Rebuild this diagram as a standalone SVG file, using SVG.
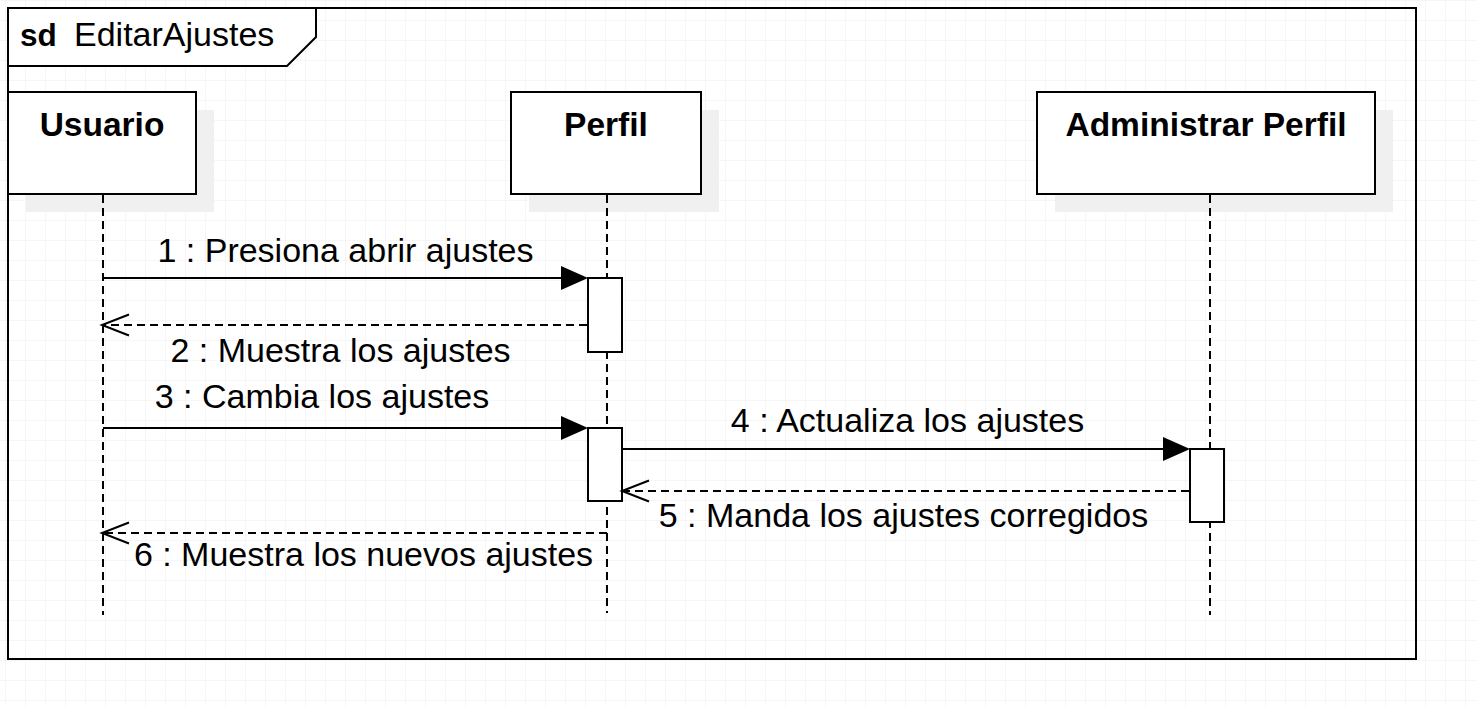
<svg xmlns="http://www.w3.org/2000/svg" width="1477" height="706" viewBox="0 0 1477 706">
<style>
.box{fill:#ffffff;stroke:#000000;stroke-width:2}
.shadow{fill:#f0f0f0;stroke:none}
.life{stroke:#000000;stroke-width:2;stroke-dasharray:8 5;fill:none}
.msg{stroke:#000000;stroke-width:2;fill:none}
.ret{stroke:#000000;stroke-width:2;stroke-dasharray:8 5;fill:none}
.head{fill:#000000;stroke:none}
.lbl{font-family:"Liberation Sans",Arial,sans-serif;font-size:34px;fill:#000000;text-anchor:middle}
.name{font-family:"Liberation Sans",Arial,sans-serif;font-size:33.5px;font-weight:bold;fill:#000000;text-anchor:middle}
</style>
<defs>
<pattern id="grid" x="5" y="0" width="20" height="20" patternUnits="userSpaceOnUse">
<path d="M0 0 V20 M0 0 H20" stroke="#eeeeee" stroke-width="1" fill="none"/>
</pattern>
</defs>
<rect x="0" y="0" width="1477" height="706" fill="#ffffff"/>
<rect x="0" y="0" width="1477" height="706" fill="url(#grid)"/>

<g id="frame">
<rect x="8" y="8" width="1408" height="651" fill="none" stroke="#000000" stroke-width="2"/>
<path d="M8 8 H316 V37 L287 66 H8 Z" fill="#ffffff" stroke="#000000" stroke-width="2"/>
<text x="20" y="46" font-family="Liberation Sans, Arial, sans-serif" font-size="31.5px" font-weight="bold">sd</text>
<text x="74" y="46" font-family="Liberation Sans, Arial, sans-serif" font-size="34px">EditarAjustes</text>
</g>

<g id="usuario">
<rect class="shadow" x="26" y="110" width="188" height="102"/>
<rect class="box" x="8" y="92" width="188" height="102"/>
<text class="name" x="102" y="136">Usuario</text>
<line class="life" x1="103" y1="195" x2="103" y2="615"/>
</g>

<g id="perfil">
<rect class="shadow" x="529" y="110" width="190" height="102"/>
<rect class="box" x="511" y="92" width="190" height="102"/>
<text class="name" x="606" y="136">Perfil</text>
<line class="life" x1="607" y1="195" x2="607" y2="613"/>
<rect class="box" x="588" y="278" width="34" height="74"/>
<rect class="box" x="588" y="428" width="34" height="73"/>
</g>

<g id="administrar-perfil">
<rect class="shadow" x="1055" y="110" width="338" height="102"/>
<rect class="box" x="1037" y="92" width="338" height="102"/>
<text class="name" x="1206" y="136">Administrar Perfil</text>
<line class="life" x1="1210" y1="195" x2="1210" y2="615"/>
<rect class="box" x="1190" y="449" width="34" height="73"/>
</g>

<g id="connectors">
<line class="msg" x1="103" y1="278" x2="565" y2="278"/>
<path class="head" d="M588 278 L561 266 L561 290 Z"/>
<text class="lbl" x="345.5" y="262">1 : Presiona abrir ajustes</text>

<line class="ret" x1="587" y1="325" x2="103" y2="325"/>
<path class="msg" d="M129 314.5 L102 325 L129 335.5"/>
<text class="lbl" x="340.5" y="362">2 : Muestra los ajustes</text>

<line class="msg" x1="103" y1="428" x2="565" y2="428"/>
<path class="head" d="M588 428 L561 416 L561 440 Z"/>
<text class="lbl" x="322" y="408">3 : Cambia los ajustes</text>

<line class="msg" x1="622" y1="449" x2="1167" y2="449"/>
<path class="head" d="M1190 449 L1163 437 L1163 461 Z"/>
<text class="lbl" x="907.5" y="432">4 : Actualiza los ajustes</text>

<line class="ret" x1="1189" y1="491" x2="623" y2="491"/>
<path class="msg" d="M649 480.5 L622 491 L649 501.5"/>
<text class="lbl" x="903.5" y="527">5 : Manda los ajustes corregidos</text>

<line class="ret" x1="607" y1="533" x2="103" y2="533"/>
<path class="msg" d="M129 522.5 L102 533 L129 543.5"/>
<text class="lbl" x="363.5" y="566">6 : Muestra los nuevos ajustes</text>
</g>
</svg>
